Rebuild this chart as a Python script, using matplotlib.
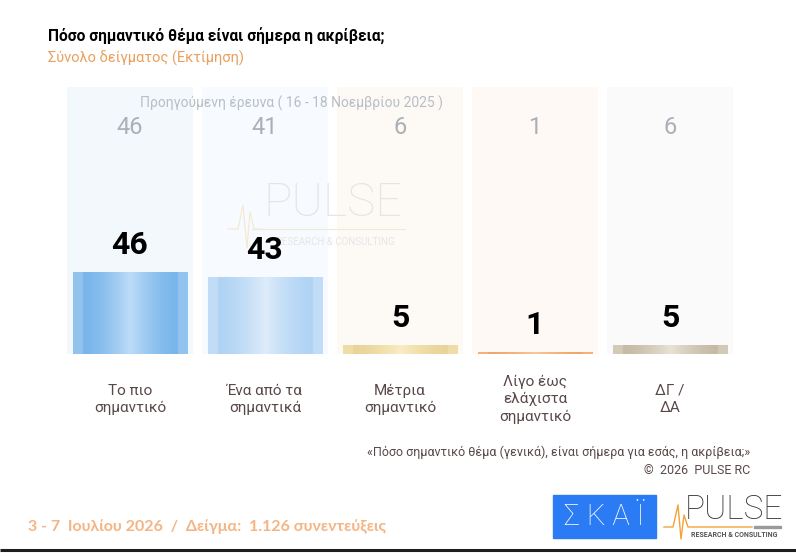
import numpy as np
import matplotlib
matplotlib.use("Agg")
import matplotlib.pyplot as plt
from matplotlib.colors import to_rgb

# ---------------- data ----------------
categories = ["Το πιο\nσημαντικό", "Ένα από τα\nσημαντικά", "Μέτρια\nσημαντικό",
              "Λίγο έως\nελάχιστα\nσημαντικό", "ΔΓ /\nΔΑ"]
current = [46, 43, 5, 1, 5]
previous = [46, 41, 6, 1, 6]

title = "Πόσο σημαντικό θέμα είναι σήμερα η ακρίβεια;"
subtitle = "Σύνολο δείγματος (Εκτίμηση)"
prev_label = "Προηγούμενη έρευνα ( 16 - 18 Νοεμβρίου 2025 )"
question = "«Πόσο σημαντικό θέμα (γενικά), είναι σήμερα για εσάς, η ακρίβεια;»"
copyright_txt = "©  2026  PULSE RC"
footer = "3 - 7  Ιουλίου 2026  /  Δείγμα:  1.126 συνεντεύξεις"

# ---------------- styles ----------------
bar_dark = ["#78b5eb", "#b0d3f4", "#e9d498", "#f1a666", "#c6baa5"]
bar_light = ["#bddcf8", "#ddecfb", "#f9edc4", "#f8c898", "#e8e2d6"]
bg_cols = ["#f3f8fd", "#f7fafe", "#fdfaf6", "#fef9f4", "#fbfafa"]
FONT = ["Roboto", "DejaVu Sans"]

W, H = 796, 556
fig = plt.figure(figsize=(W / 100, H / 100), dpi=100)
fig.patch.set_facecolor("white")

# decoration axes in pixel coordinates (y downward)
dax = fig.add_axes([0, 0, 1, 1], zorder=0)
dax.set_xlim(0, W)
dax.set_ylim(H, 0)
dax.axis("off")

# main axes
base_px, top_px = 354, 87
left_px, right_px = 62.5, 737.5
ax = fig.add_axes([left_px / W, (H - base_px) / H, (right_px - left_px) / W,
                   (base_px - top_px) / H], zorder=1)
ax.patch.set_alpha(0)
YMAX = 150
ax.set_xlim(-0.5, len(categories) - 0.5)
ax.set_ylim(0, YMAX)
ax.axis("off")

x = np.arange(len(categories))

# background columns
ax.bar(x, [YMAX] * len(x), width=0.93, color=bg_cols, zorder=1)

# bars with horizontal gradient
bars = ax.bar(x, current, width=0.845, color=bar_dark, zorder=3)
t = np.linspace(0, 1, 240)
prof = np.where((t < 0.085) | (t > 0.915), 0.38,
                np.clip(1 - np.abs(t - 0.5) / 0.415, 0, 1) ** 1.5)
for rect, cd, cl in zip(bars, bar_dark, bar_light):
    d = np.array(to_rgb(cd)); l = np.array(to_rgb(cl))
    img = d[None, None, :] + (l - d)[None, None, :] * prof[None, :, None]
    bx, by, bw, bh = rect.get_x(), rect.get_y(), rect.get_width(), rect.get_height()
    im = ax.imshow(img, extent=[bx, bx + bw, by, by + bh], aspect="auto",
                   zorder=3.5, interpolation="bilinear")
    im.set_clip_path(rect)
ax.set_xlim(-0.5, len(categories) - 0.5)
ax.set_ylim(0, YMAX)

# value labels
for xi, v in zip(x, current):
    ax.annotate(str(v), (xi, v), xytext=(0, 19.5), textcoords="offset points",
                ha="center", va="center", fontsize=23, fontweight="bold",
                color="black", family=FONT, zorder=5)

# previous values
for xi, p in zip(x, previous):
    ax.text(xi, 127, str(p), ha="center", va="center", fontsize=17,
            color="#aab0b6", family=FONT, zorder=5)

# previous survey label (above the background columns)
ax.text(291, 103, prev_label, transform=dax.transData, fontsize=10,
        color="#b8bec5", ha="center", va="center", family=FONT, zorder=5)

# category labels
for xi, c in zip(x, categories):
    ax.text(xi, -25.5, c, ha="center", va="center", fontsize=11,
            color="#5a4848", family=FONT, linespacing=1.3, clip_on=False)

# watermark
ax.text(333, 203, "PULSE", transform=dax.transData, ha="center", va="center",
        fontsize=34, fontweight="light", color="#e3e5e8", family=FONT, zorder=2)
ax.plot([252, 405], [229, 229], transform=dax.transData, color="#f1e8d8",
        lw=0.8, zorder=2)
ax.text(335, 242, "RESEARCH & CONSULTING", transform=dax.transData, ha="center",
        va="center", fontsize=7, color="#e6e6e8", family=FONT, zorder=2)
wx = [228, 238, 243, 247, 250, 254, 262]
wy = [229, 229, 205, 248, 212, 229, 229]
ax.plot(wx, wy, transform=dax.transData, color="#f5e8d0", lw=0.8, zorder=2)

# texts
def ftext(px, py, s, **kw):
    kw.setdefault("family", FONT)
    return dax.text(px, py, s, **kw)

ftext(48, 36, title, fontsize=11.2, fontweight="bold", color="black",
      ha="left", va="center")
ftext(48, 58, subtitle, fontsize=10.5, color="#e9a05c", ha="left", va="center")
ftext(750, 452, question, fontsize=9, color="#5a4848", ha="right", va="center")
ftext(750, 470, copyright_txt, fontsize=9, color="#5a4848", ha="right", va="center")
ftext(28, 527, footer, fontsize=11.5, fontweight="bold", color="#f5b483",
      ha="left", va="center", family=["Lato", "DejaVu Sans"])

# logos
dax.add_patch(plt.Rectangle((553, 495), 103, 43, color="#2b7bf5", zorder=2))
ftext(604.5, 517, "Σ Κ Α Ϊ", fontsize=21, fontweight="light", color="white",
      ha="center", va="center", zorder=3)
ftext(734, 510, "PULSE", fontsize=24, fontweight="light", color="#383838",
      ha="center", va="center", zorder=3)
px_ = [664, 673, 678, 681, 684, 688, 752]
py_ = [527, 527, 505, 539, 515, 527, 527]
dax.plot(px_, py_, color="#f4a23a", lw=1.0, zorder=3)
dax.add_patch(plt.Rectangle((754, 526), 27, 2, color="#9a9a9a", zorder=3))
ftext(734, 535, "RESEARCH & CONSULTING", fontsize=5, fontweight="bold",
      color="#555555", ha="center", va="center", zorder=3)

# bottom rule
dax.plot([0, W], [550, 550], color="#1e1e1e", lw=2.2, solid_capstyle="butt")

fig.savefig("out.png", dpi=100, facecolor="white")
